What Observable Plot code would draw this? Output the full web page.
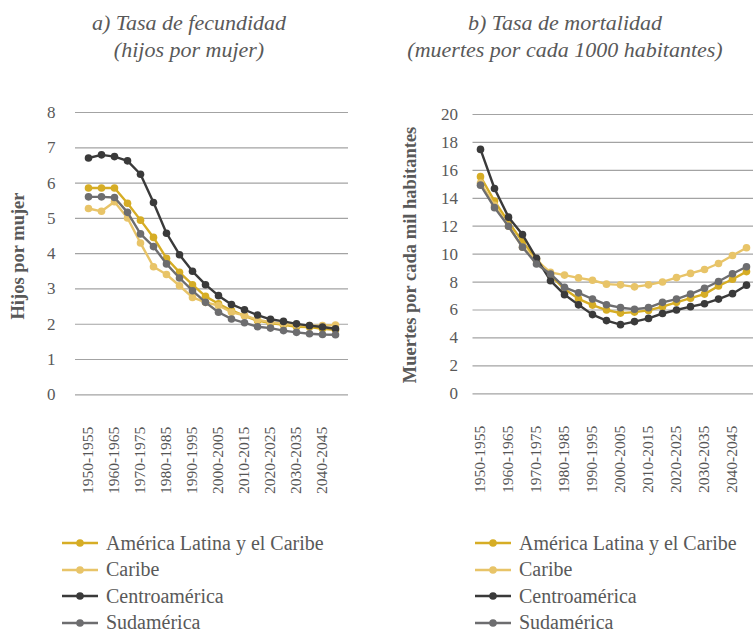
<!DOCTYPE html>
<html><head><meta charset="utf-8">
<script src="https://cdn.jsdelivr.net/npm/d3@7"></script>
<script src="https://cdn.jsdelivr.net/npm/@observablehq/plot@0.6"></script>
<style>
body{margin:0;background:#fff;}
#root{position:relative;width:753px;height:632px;overflow:hidden;font-family:"Liberation Serif","DejaVu Serif",serif;color:#595959;background:#fff;}
.title{position:absolute;text-align:center;font-style:italic;font-size:22px;line-height:27px;white-space:nowrap;transform:translateX(-50%);font-family:"Liberation Serif",serif;}
.ylab{position:absolute;font-weight:bold;font-size:18.5px;white-space:nowrap;transform:translate(-50%,-50%) rotate(-90deg);font-family:"Liberation Serif",serif;}
.legend{position:absolute;font-size:20px;font-family:"Liberation Serif",serif;}
.legend .row{height:26.5px;display:flex;align-items:center;white-space:nowrap;}
.legend svg{margin-right:8px;}
.panel{position:absolute;top:90px;}
</style></head><body><div id="root"></div>
<script>
const periods = ["1950-1955","1955-1960","1960-1965","1965-1970","1970-1975","1975-1980","1980-1985","1985-1990","1990-1995","1995-2000","2000-2005","2005-2010","2010-2015","2015-2020","2020-2025","2025-2030","2030-2035","2035-2040","2040-2045","2045-2050"];
const tickLabels = ["1950-1955","1960-1965","1970-1975","1980-1985","1990-1995","2000-2005","2010-2015","2020-2025","2030-2035","2040-2045"];
const seriesNames = ["América Latina y el Caribe","Caribe","Centroamérica","Sudamérica"];
const seriesColors = ["#d6ad25","#e8c468","#3a3a3a","#6d6d6f"];

const fertTicks = [0,1,2,3,4,5,6,7,8];
const mortTicks = [0,2,4,6,8,10,12,14,16,18,20];

const fertALC    = [5.86,5.86,5.86,5.43,4.95,4.46,3.87,3.47,3.12,2.79,2.58,2.39,2.24,2.10,2.03,1.98,1.93,1.92,1.87,1.84];
const fertCaribe = [5.28,5.20,5.47,5.01,4.30,3.63,3.41,3.09,2.76,2.62,2.53,2.34,2.25,2.13,2.06,2.01,1.98,1.96,1.96,1.98];
const fertCentro = [6.71,6.80,6.75,6.63,6.25,5.45,4.58,3.97,3.50,3.12,2.81,2.56,2.41,2.26,2.14,2.08,2.01,1.96,1.92,1.87];
const fertSud    = [5.61,5.61,5.59,5.17,4.56,4.20,3.71,3.31,2.95,2.62,2.34,2.15,2.04,1.93,1.89,1.82,1.77,1.73,1.71,1.70];

const mortALC    = [15.55,13.8,12.3,10.9,9.65,8.5,7.5,6.8,6.35,6.0,5.78,5.85,5.97,6.24,6.55,6.85,7.14,7.72,8.2,8.75];
const mortCaribe = [15.1,13.5,12.0,10.5,9.55,8.7,8.5,8.3,8.13,7.85,7.8,7.66,7.8,8.01,8.32,8.62,8.9,9.33,9.9,10.46];
const mortCentro = [17.5,14.7,12.65,11.4,9.7,8.1,7.1,6.37,5.67,5.24,4.95,5.17,5.4,5.75,6.0,6.24,6.45,6.78,7.17,7.78];
const mortSud    = [14.94,13.33,12.0,10.5,9.3,8.58,7.62,7.23,6.79,6.38,6.17,6.05,6.17,6.55,6.78,7.14,7.56,8.04,8.6,9.1];

function longTable(arrs){
  const out = [];
  arrs.forEach((vals, s) => vals.forEach((v, i) => out.push({periodo: periods[i], serie: seriesNames[s], valor: v})));
  return out;
}
const fertData = longTable([fertALC, fertCaribe, fertCentro, fertSud]);
const mortData = longTable([mortALC, mortCaribe, mortCentro, mortSud]);

function panel(data, ticks, yMax, opts){
  const marks = [
    Plot.gridY(ticks, {stroke:"#a3a3a3", strokeOpacity:1, strokeWidth:1.2}),
    Plot.axisY(ticks, {tickSize:0, tickPadding:opts.yPad, fontSize:17, label:null}),
    Plot.axisX(tickLabels, {tickSize:0, tickPadding:32, tickRotate:-90, fontSize:15.5, label:null, fill:"#555"})
  ];
  seriesNames.forEach(s => {
    const d = data.filter(r => r.serie === s);
    marks.push(Plot.line(d, {x:"periodo", y:"valor", stroke:"serie", strokeWidth:2.4}));
    marks.push(Plot.dot(d, {x:"periodo", y:"valor", fill:"serie", r:3.8}));
  });
  return Plot.plot({
    width: opts.width, height: 400,
    marginLeft: opts.ml, marginRight: opts.mr, marginTop: opts.mt, marginBottom: 400 - opts.mt - opts.h,
    style: {fontFamily:'"Liberation Serif","DejaVu Serif",serif', color:"#595959", background:"transparent", overflow:"visible"},
    x: {type:"point", domain: periods, padding:0.5},
    y: {domain:[0, yMax]},
    color: {domain: seriesNames, range: seriesColors},
    marks
  });
}

const root = document.getElementById("root");

const p1 = panel(fertData, fertTicks, 8, {width:375, ml:75, mr:27, mt:22, h:282.3, yPad:20});
const w1 = document.createElement("div"); w1.className="panel"; w1.style.left="0px"; w1.appendChild(p1); root.appendChild(w1);

const p2 = panel(mortData, mortTicks, 20, {width:373, ml:92.5, mr:0, mt:24, h:279.3, yPad:15});
const w2 = document.createElement("div"); w2.className="panel"; w2.style.left="380px"; w2.appendChild(p2); root.appendChild(w2);

function addTitle(x, lines){
  const t = document.createElement("div"); t.className="title"; t.style.left = x+"px"; t.style.top = "9px";
  t.innerHTML = lines.join("<br>"); root.appendChild(t);
}
addTitle(189, ["a) Tasa de fecundidad","(hijos por mujer)"]);
addTitle(565, ["b) Tasa de mortalidad","(muertes por cada 1000 habitantes)"]);

function addYLab(x, y, text){
  const t = document.createElement("div"); t.className="ylab"; t.style.left=x+"px"; t.style.top=y+"px"; t.textContent=text; root.appendChild(t);
}
addYLab(18, 256, "Hijos por mujer");
addYLab(410, 255, "Muertes por cada mil habitantes");

function addLegend(x){
  const L = document.createElement("div"); L.className="legend"; L.style.left=x+"px"; L.style.top="530px";
  seriesNames.forEach((s,i) => {
    const row = document.createElement("div"); row.className="row";
    row.innerHTML = `<svg width="36" height="10"><line x1="0" x2="36" y1="5" y2="5" stroke="${seriesColors[i]}" stroke-width="2.4"/><circle cx="18" cy="5" r="3.8" fill="${seriesColors[i]}"/></svg><span>${s}</span>`;
    L.appendChild(row);
  });
  root.appendChild(L);
}
addLegend(62);
addLegend(475);
</script></body></html>
